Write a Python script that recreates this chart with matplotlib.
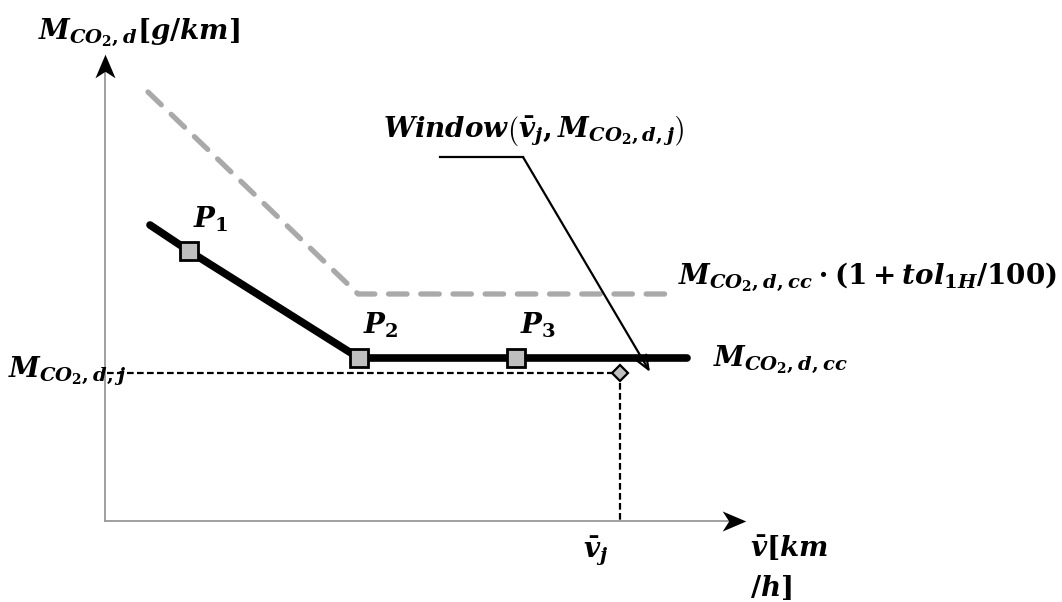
import matplotlib
matplotlib.use('Agg')
import matplotlib.pyplot as plt
from matplotlib.path import Path

plt.rcParams['mathtext.fontset'] = 'custom'
plt.rcParams['mathtext.it'] = 'DejaVu Serif:bold:italic'
plt.rcParams['mathtext.rm'] = 'DejaVu Serif:bold'
plt.rcParams['mathtext.bf'] = 'DejaVu Serif:bold'

# diagram data (arbitrary units, origin at the axes crossing)
cc_x = [45, 84, 254, 411, 582]
cc_y = [296, 270, 163, 163, 163]
pts_x = [84, 254, 411]
pts_y = [270, 163, 163]
pts_lab = [r'$P_1$', r'$P_2$', r'$P_3$']
tol_x = [43, 253, 570]
tol_y = [429, 227, 227]
v_j = 515
m_j = 148
x_end = 640
y_end = 466

fig = plt.figure(figsize=(10.62, 6.02), dpi=100)
ax = fig.add_axes([0, 0, 1, 1])
ax.set_xlim(-105, 957)
ax.set_ylim(-81, 521)
ax.axis('off')

# notched arrow heads
head_r = Path([(1, 0), (-1, 0.85), (-0.45, 0), (-1, -0.85), (1, 0)],
              [Path.MOVETO, Path.LINETO, Path.LINETO, Path.LINETO, Path.CLOSEPOLY])
head_u = Path([(0, 1), (0.85, -1), (0, -0.45), (-0.85, -1), (0, 1)],
              [Path.MOVETO, Path.LINETO, Path.LINETO, Path.LINETO, Path.CLOSEPOLY])

# axes
ax.plot([0, x_end - 15], [0, 0], color='#999999', lw=1.3)
ax.plot([0, 0], [0, y_end - 15], color='#999999', lw=1.3)
ax.plot([x_end - 11], [0], marker=head_r, ms=17, color='black', mew=0)
ax.plot([0], [y_end - 11], marker=head_u, ms=17, color='black', mew=0)

# tolerance line
ax.plot(tol_x, tol_y, color='#a9a9a9', lw=3.8, ls=(0, (3.5, 2.6)), dash_capstyle='round',
        solid_joinstyle='round')
# co2 line
ax.plot(cc_x, cc_y, color='black', lw=5.5, solid_capstyle='round')
ax.plot(pts_x, pts_y, ls='none', marker='s', ms=13, mfc='#bfbfbf', mec='black', mew=2)

# window point
ax.plot([2, v_j], [m_j, m_j], color='black', lw=1.6, ls=(0, (3, 1.5)))
ax.plot([v_j, v_j], [m_j, 0], color='black', lw=1.6, ls=(0, (3, 1.5)))
ax.plot([v_j], [m_j], ls='none', marker='D', ms=8, mfc='#bfbfbf', mec='black', mew=1.6)

# callout
ax.plot([335, 418], [364, 364], color='black', lw=1.6)
ax.annotate('', xy=(545, 149), xytext=(418, 364),
            arrowprops=dict(arrowstyle='->,head_length=1.0,head_width=0.4', color='black', lw=1.6,
                            shrinkA=0, shrinkB=0))

fs = 20
for x, y, s in zip(pts_x, pts_y, pts_lab):
    ax.text(x + 4, y + 24, s, fontsize=fs, ha='left', va='baseline')

ax.text(-67, 483, r'$M_{CO_2,d}[g/km]$', fontsize=fs, va='baseline')
ax.text(278, 383, r'$Window\left(\bar{v}_j,M_{CO_2,d,j}\right)$', fontsize=fs, va='baseline')
ax.text(573, 238, r'$M_{CO_2,d,cc}\cdot(1+tol_{1H}/100)$', fontsize=fs, va='baseline')
ax.text(608, 156, r'$M_{CO_2,d,cc}$', fontsize=fs, va='baseline')
ax.text(-97, 143, r'$M_{CO_2,d,j}$', fontsize=fs, va='baseline')
ax.text(478, -36, r'$\bar{v}_j$', fontsize=fs, va='baseline')
ax.text(645, -36, r'$\bar{v}[km$', fontsize=fs, va='baseline')
ax.text(645, -75, r'$/h]$', fontsize=fs, va='baseline')

fig.savefig('out.png', dpi=100)
